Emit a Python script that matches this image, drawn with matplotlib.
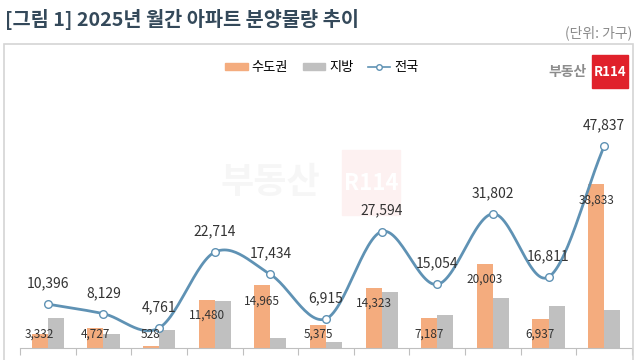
import matplotlib
matplotlib.use("Agg")
import matplotlib.pyplot as plt
import numpy as np
from matplotlib.patches import Rectangle, Patch
from matplotlib.lines import Line2D

plt.rcParams['font.family'] = ['Noto Sans CJK KR', 'DejaVu Sans']

months = ["1월", "2월", "3월", "4월", "5월", "6월", "7월", "8월", "9월", "10월", "11월"]
metro = [3332, 4727, 528, 11480, 14965, 5375, 14323, 7187, 20003, 6937, 38833]
total = [10396, 8129, 4761, 22714, 17434, 6915, 27594, 15054, 31802, 16811, 47837]
local = [t - m for t, m in zip(total, metro)]

C_ORANGE = "#F4AC7E"
C_GRAY = "#C0C0C0"
C_LINE = "#5F92B4"

W, H = 640, 360
fig = plt.figure(figsize=(6.4, 3.6), dpi=100)

def fx(px):
    return px / W

def fy(py):
    return 1 - py / H

# frame
frame = Rectangle((fx(4), fy(365)), fx(629), (365 - 44) / H, transform=fig.transFigure,
                  fill=False, edgecolor="#D4D4D4", linewidth=1.2, clip_on=False)
fig.patches.append(frame)

# title & unit
fig.text(fx(5), fy(19), "[그림 1] 2025년 월간 아파트 분양물량 추이", fontsize=14.2,
         fontweight="bold", color="#34495a", ha="left", va="center")
fig.text(fx(632), fy(33), "(단위: 가구)", fontsize=10, color="#8a8a8a", ha="right", va="center")

# faint watermark (behind the axes)
wm_box = Rectangle((fx(342), fy(215)), fx(58), 65 / H, transform=fig.transFigure,
                   color="#FDF1F1", zorder=-2)
fig.patches.append(wm_box)
fig.text(fx(270), fy(183), "부동산", fontsize=26, fontweight="bold", color="#F6F6F6",
         ha="center", va="center", zorder=-2)
fig.text(fx(371), fy(183), "R114", fontsize=16, fontweight="bold", color="#FFFFFF",
         ha="center", va="center", zorder=-1)

# logo
fig.patches.append(Rectangle((fx(592), fy(88)), fx(36), 33 / H, transform=fig.transFigure,
                             color="#E0212B", zorder=2))
fig.text(fx(610), fy(72), "R114", fontsize=9.5, fontweight="bold", color="white",
         ha="center", va="center", zorder=3)
fig.text(fx(587), fy(72), "부동산", fontsize=10, fontweight="bold", color="#8c8c8c",
         ha="right", va="center")

# axes: baseline at y=348 px, 4.22 px per 1000
ax_bottom_px = 348
ax_top_px = 100
ax = fig.add_axes([fx(20), fy(ax_bottom_px), fx(612), (ax_bottom_px - ax_top_px) / H])
ax.set_zorder(1)
ymax = (ax_bottom_px - ax_top_px) / 4.22 * 1000
ax.set_ylim(0, ymax)
ax.set_xlim(-0.5, len(months) - 0.5)
ax.patch.set_alpha(0)

x = np.arange(len(months))
bw = 0.29
ax.bar(x - bw / 2, metro, width=bw, color=C_ORANGE, zorder=2, label="수도권")
ax.bar(x + bw / 2, local, width=bw, color=C_GRAY, zorder=2, label="지방")

# smooth line (Catmull-Rom through the data points)
def smooth(xs, ys, n=30):
    xs = np.asarray(xs, float); ys = np.asarray(ys, float)
    P = np.column_stack([xs, ys])
    P = np.vstack([P[0] - (P[1] - P[0]), P, P[-1] + (P[-1] - P[-2])])
    out = []
    for i in range(1, len(P) - 2):
        p0, p1, p2, p3 = P[i - 1], P[i], P[i + 1], P[i + 2]
        t = np.linspace(0, 1, n)[:, None]
        pts = 0.5 * ((2 * p1) + (-p0 + p2) * t + (2 * p0 - 5 * p1 + 4 * p2 - p3) * t ** 2
                     + (-p0 + 3 * p1 - 3 * p2 + p3) * t ** 3)
        out.append(pts)
    out = np.vstack(out)
    return out[:, 0], out[:, 1]

sx, sy = smooth(x, total)
ax.plot(sx, sy, color=C_LINE, linewidth=2, zorder=3)
ax.plot(x, total, linestyle="none", marker="o", markersize=5.5, markerfacecolor="white",
        markeredgecolor=C_LINE, markeredgewidth=1, zorder=4)

for xi, v in zip(x, total):
    ax.annotate(f"{v:,}", (xi, v), xytext=(0, 10), textcoords="offset points",
                ha="center", va="bottom", fontsize=10, color="#333333", zorder=5)

for xi, v in zip(x, metro):
    ly = max(v - 3800, 3300)
    ax.text(xi - bw / 2, ly, f"{v:,}", ha="center", va="center", fontsize=8.5,
            color="#333333", zorder=5)

# axis styling
for s in ["top", "right", "left"]:
    ax.spines[s].set_visible(False)
ax.spines["bottom"].set_color("#BFBFBF")
ax.set_yticks([])
ax.set_xticks(np.arange(-0.5, len(months), 1.0))
ax.set_xticklabels([])
ax.tick_params(axis="x", length=5, color="#BFBFBF", direction="out")

# legend
handles = [Patch(color=C_ORANGE), Patch(color=C_GRAY),
           Line2D([0], [0], color=C_LINE, marker="o", markerfacecolor="white",
                  markeredgecolor=C_LINE, markersize=4, linewidth=1.2)]
fig.legend(handles, ["수도권", "지방", "전국"], loc="center", bbox_to_anchor=(fx(322), fy(68)),
           ncol=3, frameon=False, fontsize=9.5, handlelength=1.7, handleheight=0.45,
           columnspacing=1.1, handletextpad=0.3)

fig.savefig("out.png", dpi=100)
